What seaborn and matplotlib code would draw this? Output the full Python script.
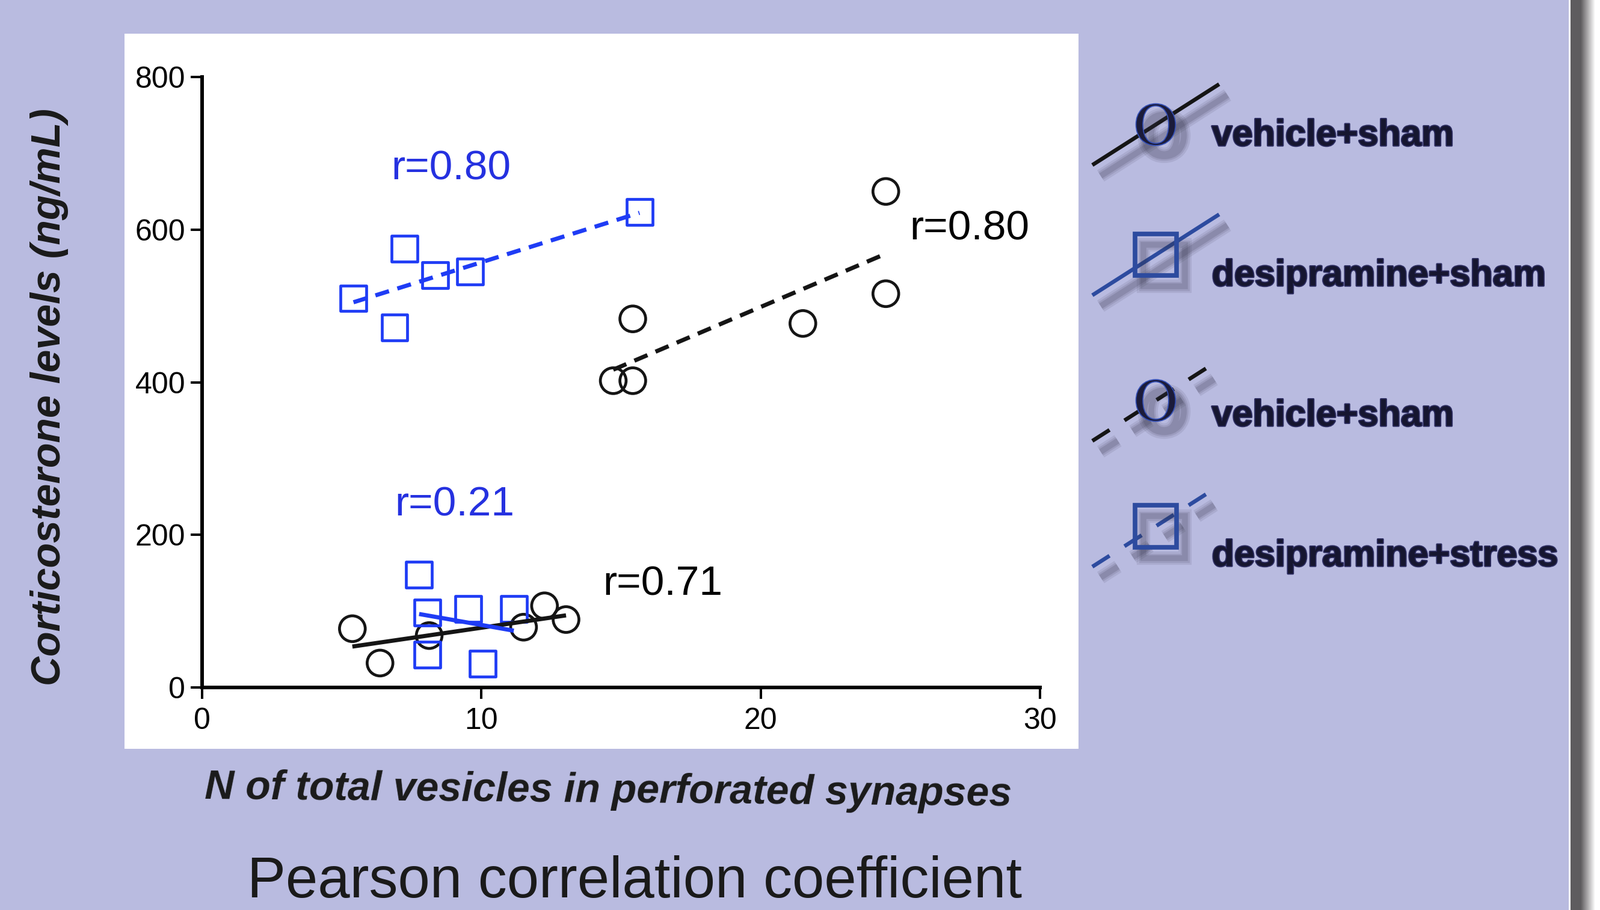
import numpy as np
import seaborn as sns
import matplotlib.pyplot as plt
import matplotlib.patheffects as pe
from matplotlib.lines import Line2D
from matplotlib.patches import Rectangle
from matplotlib.legend_handler import HandlerBase

# DATA
# vehicle, dashed fit (upper group)
veh_up_x = [14.72, 15.42, 15.42, 21.51, 24.48, 24.48]
veh_up_y = [402, 402, 483, 477, 516, 650]
# desipramine, dashed fit (upper group)
des_up_x = [5.42, 6.89, 7.24, 8.35, 9.60, 15.66]
des_up_y = [510, 472, 575, 540, 545, 623]
# vehicle, solid fit (lower group)
veh_lo_x = [5.38, 6.37, 8.13, 11.51, 12.26, 13.03]
veh_lo_y = [77, 32, 68, 79, 107, 89]
# desipramine, solid fit (lower group)
des_lo_x = [7.77, 8.06, 8.06, 9.53, 10.04, 11.16]
des_lo_y = [148, 98, 43, 103, 31, 103]

r_labels = ['r=0.80', 'r=0.80', 'r=0.21', 'r=0.71']
r_x = [8.92, 27.48, 9.05, 16.5]
r_y = [666, 587, 225, 121]
r_colors = ['#2531e0', 'black', '#2531e0', 'black']

legend_labels = ['vehicle+sham', 'desipramine+sham', 'vehicle+sham', 'desipramine+stress']

x_ticks = [0, 10, 20, 30]
y_ticks = [0, 200, 400, 600, 800]

# COLOURS
BG = '#b9bbe0'
BLUE = '#1f3cf5'
BLACK = '#151515'
NAVY = '#2d4b9f'

# THEME
sns.set_style('ticks')
plt.rcParams['font.family'] = ['Liberation Sans', 'DejaVu Sans']
plt.rcParams['mathtext.fontset'] = 'stix'

W, H = 2660, 1513
def fx(px):
    return px / W
def fy(py):
    return 1 - py / H

fig = plt.figure(figsize=(26.6, 15.13), dpi=100)
fig.patch.set_facecolor(BG)

# white panel behind the plot
fig.add_artist(Rectangle((fx(207), fy(1245)), fx(1793) - fx(207), fy(56) - fy(1245),
                         transform=fig.transFigure, facecolor='white', edgecolor='none', zorder=-1))

# page edge on the right
fig.add_artist(Rectangle((fx(2608), 0), 1 - fx(2608), 1, transform=fig.transFigure,
                         facecolor='white', edgecolor='none', zorder=-1))
fig.add_artist(Rectangle((fx(2611), 0), fx(2629) - fx(2611), 1, transform=fig.transFigure,
                         facecolor='#5e5c5f', edgecolor='none', zorder=-1))
dark = np.array([0.37, 0.36, 0.37])
for i, t in enumerate(np.linspace(0.08, 1.0, 12)):
    c = dark + (1 - dark) * t
    fig.add_artist(Rectangle((fx(2629 + 2 * i), 0), fx(2), 1, transform=fig.transFigure,
                             facecolor=tuple(c), edgecolor='none', zorder=-1))

ax = fig.add_axes([fx(336), fy(1143), fx(1729) - fx(336), fy(128) - fy(1143)])
ax.set_facecolor('white')

# SCATTER
sc_kw = dict(s=950, facecolor='none', linewidth=3.4, zorder=3, ax=ax, joinstyle='round')
sns.scatterplot(x=veh_up_x, y=veh_up_y, marker='o', color=BLACK, edgecolor=BLACK, **sc_kw)
sns.scatterplot(x=veh_lo_x, y=veh_lo_y, marker='o', color=BLACK, edgecolor=BLACK, **sc_kw)
sns.scatterplot(x=des_up_x, y=des_up_y, marker='s', color=BLUE, edgecolor=BLUE, **sc_kw)
sns.scatterplot(x=des_lo_x, y=des_lo_y, marker='s', color=BLUE, edgecolor=BLUE, **sc_kw)

# LINEAR FITS
dash = (0, (3.4, 2.1))
def fit(x, y, color, ls):
    sns.regplot(x=x, y=y, scatter=False, ci=None, color=color, ax=ax,
                line_kws=dict(lw=5, ls=ls, solid_capstyle='butt', dash_capstyle='butt', zorder=4))

fit(veh_up_x, veh_up_y, BLACK, dash)
fit(des_up_x, des_up_y, BLUE, dash)
fit(veh_lo_x, veh_lo_y, BLACK, '-')
fit(des_lo_x, des_lo_y, BLUE, '-')

# r ANNOTATIONS
for lab, xx, yy, col in zip(r_labels, r_x, r_y, r_colors):
    ax.text(xx, yy, lab, color=col, fontsize=50, ha='center', va='baseline', zorder=5)

# AXES
ax.set_xlim(0, 30)
ax.set_ylim(0, 800)
ax.set_xticks(x_ticks)
ax.set_yticks(y_ticks)
sns.despine(ax=ax)
for side in ['left', 'bottom']:
    ax.spines[side].set_linewidth(4.3)
    ax.spines[side].set_color('black')
ax.tick_params(axis='both', length=14, width=2.9, color='black', labelsize=36, labelcolor='black')
ax.tick_params(axis='x', pad=10)
ax.tick_params(axis='y', pad=6)
ax.set_xlabel('')
ax.set_ylabel('')

# AXIS TITLES (outside the white panel)
fig.text(fx(1011), fy(1334), 'N of total vesicles in perforated synapses', fontsize=49,
         fontweight='bold', fontstyle='italic', color='#1a1a1a', ha='center', va='baseline',
         rotation=-0.5, rotation_mode='anchor')
fig.text(fx(100), fy(660), 'Corticosterone levels (ng/mL)', fontsize=49, fontweight='bold',
         fontstyle='italic', color='#1a1a1a', ha='center', va='baseline',
         rotation=90, rotation_mode='anchor')
fig.text(fx(1055), fy(1492), 'Pearson correlation coefficient', fontsize=69,
         color='#1a1a1a', ha='center', va='baseline')


# LEGEND: diagonal line through the marker, with a soft drop shadow
def soft_shadow():
    effects = []
    for a, w in [(0.10, 16), (0.12, 11), (0.16, 7)]:
        effects.append(pe.SimpleLineShadow(offset=(10, -13), shadow_color='#303045',
                                           alpha=a, rho=1.0, linewidth=w))
    effects.append(pe.Normal())
    return effects


class DiagHandler(HandlerBase):
    def __init__(self, dy):
        super().__init__()
        self.dy = dy

    def create_artists(self, legend, orig, xdescent, ydescent, width, height, fontsize, trans):
        x0, x1 = -xdescent, width - xdescent
        yc = self.dy * fontsize
        rise = 2.2 * fontsize
        line = Line2D([x0, x1], [yc - rise / 2, yc + rise / 2])
        line.update_from(orig)
        line.set_marker('None')
        line.set_solid_capstyle('butt')
        line.set_dash_capstyle('butt')
        mark = Line2D([(x0 + x1) / 2], [yc])
        mark.update_from(orig)
        mark.set_linestyle('None')
        for art in (line, mark):
            art.set_transform(trans)
            art.set_path_effects(soft_shadow())
        return [line, mark]


leg_dash = (0, (5.2, 4.5))
h1 = Line2D([], [], color=BLACK, lw=4.7, marker=r'$\mathrm{O}$', ms=50,
            mfc='#1b1b3a', mec='#3450b8', mew=1.2)
h2 = Line2D([], [], color=NAVY, lw=4.7, marker='s', ms=50, mfc='none', mec=NAVY, mew=5.5)
h3 = Line2D([], [], color=BLACK, lw=4.7, ls=leg_dash, marker=r'$\mathrm{O}$', ms=50,
            mfc='#1b1b3a', mec='#3450b8', mew=1.2)
h4 = Line2D([], [], color=NAVY, lw=4.7, ls=leg_dash, marker='s', ms=50, mfc='none',
            mec=NAVY, mew=5.5)

leg = fig.legend([h1, h2, h3, h4], legend_labels, loc='upper left',
                 bbox_to_anchor=(fx(1816), fy(198)), frameon=False, borderpad=0,
                 borderaxespad=0, handlelength=3.45, handleheight=0.5, handletextpad=-0.2,
                 labelspacing=2.88,
                 prop={'family': 'Liberation Sans', 'weight': 'bold', 'size': 44},
                 handler_map={h1: DiagHandler(0.57), h2: DiagHandler(0.84),
                              h3: DiagHandler(0.69), h4: DiagHandler(1.08)})
for t in leg.get_texts():
    t.set_color('#161630')
    t.set_path_effects([pe.withStroke(linewidth=2.5, foreground='#2e2e62')])

fig.savefig('out.png', dpi=100, facecolor=fig.get_facecolor())
